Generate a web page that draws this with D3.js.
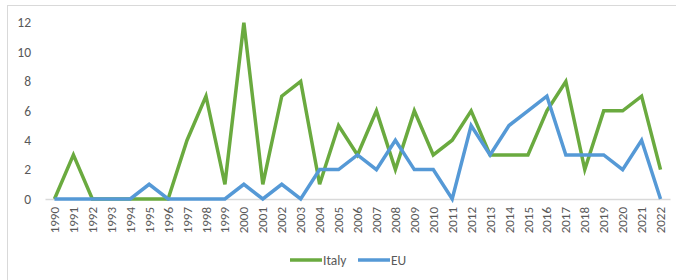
<!DOCTYPE html>
<html>
<head>
<meta charset="utf-8">
<script src="https://cdn.jsdelivr.net/npm/d3@7"></script>
<style>
  body { margin: 0; background: #fff; }
  svg { display: block; font-family: Calibri, Carlito, "Liberation Sans", Arial, sans-serif; }
</style>
</head>
<body>
<div id="chart"></div>
<script>
// values
const years = d3.range(1990, 2023).map(String);
const italy = [0, 3, 0, 0, 0, 0, 0, 4, 7, 1, 12, 1, 7, 8, 1, 5, 3, 6, 2, 6, 3, 4, 6, 3, 3, 3, 6, 8, 2, 6, 6, 7, 2];
const eu = [0, 0, 0, 0, 0, 1, 0, 0, 0, 0, 1, 0, 1, 0, 2, 2, 3, 2, 4, 2, 2, 0, 5, 3, 5, 6, 7, 3, 3, 3, 2, 4, 0];
const yTicks = [0, 2, 4, 6, 8, 10, 12];
const seriesNames = ['Italy', 'EU'];
const seriesColors = ['#6aaa3f', '#5599d6'];

const width = 676, height = 280;
const margin = { top: 22, right: 6, bottom: 81, left: 45 };

const svg = d3.select('#chart')
  .append('svg')
  .attr('width', width)
  .attr('height', height);

// chart frame
svg.append('rect')
  .attr('x', 7.5).attr('y', 5.5)
  .attr('width', 680).attr('height', 280)
  .attr('fill', 'none')
  .attr('stroke', '#d9d9d9');

const x = d3.scaleBand()
  .domain(years)
  .range([margin.left, width - margin.right]);

const y = d3.scaleLinear()
  .domain([0, 12])
  .range([height - margin.bottom, margin.top + 0.7]);

const cx = d => x(d) + x.bandwidth() / 2;

// y axis labels
svg.append('g')
  .selectAll('text')
  .data(yTicks)
  .enter().append('text')
  .attr('x', 31)
  .attr('y', d => y(d))
  .attr('dy', '0.35em')
  .attr('text-anchor', 'end')
  .attr('font-size', 13.5)
  .attr('fill', '#595959')
  .text(d => d);

// x axis
const xAxis = svg.append('g')
  .attr('transform', `translate(0,${y(0)})`)
  .call(d3.axisBottom(x).tickSize(0).tickPadding(0));
xAxis.select('.domain').attr('stroke', '#d9d9d9').attr('stroke-width', 1.3);
xAxis.selectAll('text')
  .attr('transform', 'rotate(-90)')
  .attr('text-anchor', 'end')
  .attr('x', -8)
  .attr('y', 0)
  .attr('dy', '0.35em')
  .attr('font-size', 13)
  .attr('font-family', 'Calibri, Carlito, "Liberation Sans", Arial, sans-serif')
  .attr('fill', '#595959');

const line = d3.line()
  .x((d, i) => cx(years[i]))
  .y(d => y(d));

[italy, eu].forEach((vals, i) => {
  svg.append('path')
    .datum(vals)
    .attr('fill', 'none')
    .attr('stroke', seriesColors[i])
    .attr('stroke-width', 3.5)
    .attr('stroke-linejoin', 'miter')
    .attr('d', line);
});

// legend
const legendItems = [
  { name: seriesNames[0], color: seriesColors[0], x: 290, w: 32 },
  { name: seriesNames[1], color: seriesColors[1], x: 358, w: 32 },
];
const legend = svg.append('g');
legendItems.forEach(it => {
  legend.append('line')
    .attr('x1', it.x).attr('x2', it.x + it.w)
    .attr('y1', 260).attr('y2', 260)
    .attr('stroke', it.color)
    .attr('stroke-width', 3.5);
  legend.append('text')
    .attr('x', it.x + it.w + 1)
    .attr('y', 260)
    .attr('dy', '0.35em')
    .attr('font-size', 13.5)
    .attr('fill', '#595959')
    .text(it.name);
});
</script>
</body>
</html>
